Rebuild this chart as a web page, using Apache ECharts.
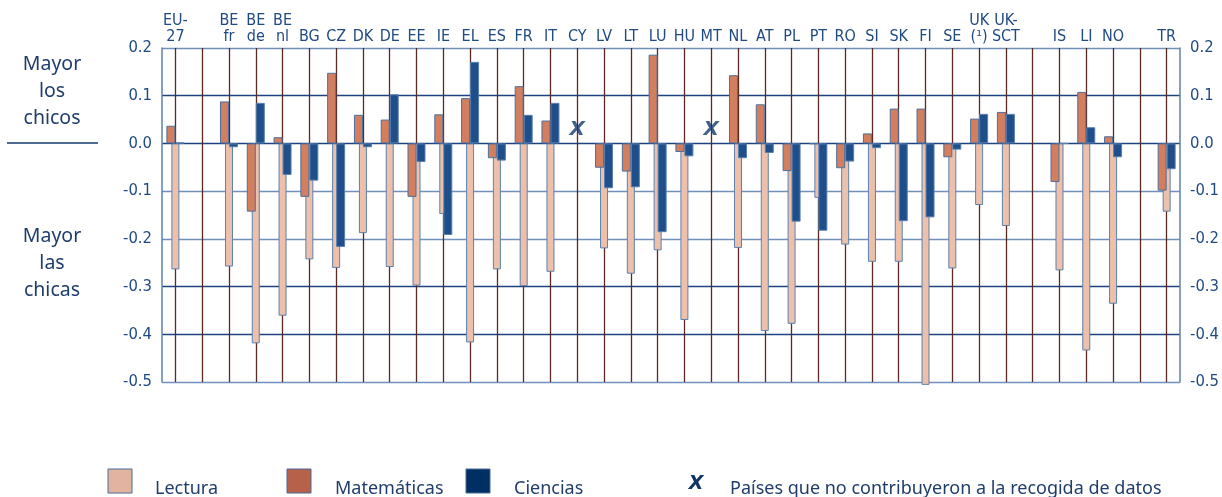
<!DOCTYPE html>
<html><head><meta charset="utf-8">
<script src="https://cdn.jsdelivr.net/npm/echarts@6/dist/echarts.min.js"></script>
<style>html,body{margin:0;padding:0;background:#fff}#c{width:1222px;height:497px}</style>
</head><body><div id="c"></div>
<script>
// ---- data ----
const categories = ['EU-\n27','','BE\nfr','BE\nde','BE\nnl','BG','CZ','DK','DE','EE','IE','EL','ES','FR','IT','CY','LV','LT','LU','HU','MT','NL','AT','PL','PT','RO','SI','SK','FI','SE','UK\n(¹)','UK-\nSCT','','IS','LI','NO','','TR'];
const lectura = [-0.264,null,-0.258,-0.419,-0.361,-0.243,-0.261,-0.188,-0.259,-0.298,-0.148,-0.417,-0.264,-0.299,-0.269,null,-0.220,-0.273,-0.224,-0.370,null,-0.219,-0.393,-0.378,-0.114,-0.212,-0.248,-0.248,-0.506,-0.262,-0.129,-0.173,null,-0.266,-0.434,-0.336,null,-0.143];
const matematicas = [0.037,null,0.088,-0.143,0.013,-0.112,0.148,0.060,0.050,-0.112,0.061,0.095,-0.031,0.120,0.048,null,-0.051,-0.059,0.186,-0.018,null,0.143,0.082,-0.058,-0.001,-0.052,0.021,0.073,0.073,-0.029,0.052,0.066,null,-0.081,0.108,0.015,null,-0.099];
const ciencias = [0.002,null,-0.008,0.085,-0.066,-0.078,-0.217,-0.008,0.103,-0.039,-0.192,0.171,-0.036,0.060,0.085,null,-0.094,-0.092,-0.186,-0.027,null,-0.031,-0.020,-0.164,-0.183,-0.038,-0.010,-0.163,-0.155,-0.013,0.062,0.062,null,0.000,0.034,-0.029,null,-0.054];
const noDataCountries = ['CY','MT'];
const noDataMarkValue = 0.028;
const yMin = -0.5, yMax = 0.2, yStep = 0.1;
const seriesNames = ['Lectura','Matemáticas','Ciencias'];
const noDataText = 'Países que no contribuyeron a la recogida de datos';

// ---- style ----
const NARROW = "'Liberation Sans Narrow','DejaVu Sans Condensed',sans-serif";
const SANS = "'Noto Sans','Open Sans',sans-serif";
const NAVY = '#1f4a82';
const TXT = '#1f3d6b';
const DARKLINE = '#1c4380', LIGHTLINE = '#6f90ba';
const cLect = '#ecc0aa', cMat = '#d27e5f', cCie = '#1f4f8b';

const chart = echarts.init(document.getElementById('c'), null, {renderer:'canvas'});
const fmt = v => (Math.abs(v) < 1e-9 ? '0.0' : v.toFixed(1));
const yAxisBase = {
  type:'value', min:yMin, max:yMax, interval:yStep,
  axisLine:{show:true, lineStyle:{color:'#5d82ae', width:1.5}},
  axisTick:{show:false},
  axisLabel:{color:NAVY, fontSize:16.5, fontFamily:NARROW, margin:10, formatter:fmt}
};
const markerData = noDataCountries.map(c => [categories.indexOf(c), noDataMarkValue]);

chart.setOption({
  animation:false,
  grid:{left:162, right:35, top:48, bottom:115, containLabel:false},
  xAxis:[
    {type:'category', position:'top', data:categories,
     axisLine:{show:false}, axisTick:{show:false}, splitLine:{show:false},
     axisLabel:{interval:0, color:NAVY, fontSize:16, lineHeight:16, margin:3, fontFamily:NARROW}},
    {type:'category', position:'top', data:categories, show:false}
  ],
  yAxis:[
    Object.assign({}, yAxisBase, {position:'left',
      splitLine:{show:true, lineStyle:{width:1.3, color:[LIGHTLINE,DARKLINE,DARKLINE,LIGHTLINE,LIGHTLINE,DARKLINE,DARKLINE,LIGHTLINE]}}}),
    Object.assign({}, yAxisBase, {position:'right', splitLine:{show:false}})
  ],
  series:[
    {type:'line', name:'guides', xAxisIndex:0, yAxisIndex:0, data:[], silent:true,
     markLine:{silent:true, z:1, symbol:['none','none'], label:{show:false},
       lineStyle:{color:'#5b2a24', width:1.3, type:'solid'},
       data: categories.map((c,i)=>({xAxis:i}))}},
    {type:'bar', name:seriesNames[0], xAxisIndex:1, yAxisIndex:0, data:lectura, barWidth:8, z:2, clip:false,
     itemStyle:{color:cLect, borderColor:'#5d82ae', borderWidth:1}},
    {type:'bar', name:seriesNames[1], xAxisIndex:0, yAxisIndex:0, data:matematicas, barWidth:9, barGap:'0%', z:3,
     itemStyle:{color:cMat, borderColor:'#4e6f9c', borderWidth:1}},
    {type:'bar', name:seriesNames[2], xAxisIndex:0, yAxisIndex:0, data:ciencias, barWidth:9, barGap:'0%', z:3,
     itemStyle:{color:cCie, borderColor:'#5a7fae', borderWidth:1}},
    {type:'scatter', name:'nd', xAxisIndex:0, yAxisIndex:0, data:markerData, symbolSize:1, z:4,
     itemStyle:{color:'rgba(0,0,0,0)'},
     label:{show:true, position:'inside', formatter:'X', color:'#123a70', fontSize:20, fontWeight:'bold', fontStyle:'italic', fontFamily:"'DejaVu Sans',sans-serif"}}
  ],
  graphic:[
    {type:'text', x:52, y:51, style:{text:'Mayor\nlos\nchicos', align:'center', verticalAlign:'top', font:'19.5px '+SANS, lineHeight:27, fill:TXT}},
    {type:'line', shape:{x1:7, y1:143, x2:98, y2:143}, style:{stroke:'#4d6a93', lineWidth:2}},
    {type:'text', x:52, y:223, style:{text:'Mayor\nlas\nchicas', align:'center', verticalAlign:'top', font:'19.5px '+SANS, lineHeight:27, fill:TXT}},
    {type:'rect', shape:{x:108, y:469, width:24, height:24}, style:{fill:'#e2b4a0', stroke:'#4a6a98', lineWidth:1}},
    {type:'text', x:155, y:489, style:{text:seriesNames[0], verticalAlign:'middle', font:'18px '+SANS, fill:TXT}},
    {type:'rect', shape:{x:287, y:469, width:24, height:24}, style:{fill:'#b8614a', stroke:'#4a6a98', lineWidth:1}},
    {type:'text', x:335, y:489, style:{text:seriesNames[1], verticalAlign:'middle', font:'18px '+SANS, fill:TXT}},
    {type:'rect', shape:{x:466, y:469, width:24, height:24}, style:{fill:'#002f63', stroke:'#4a6a98', lineWidth:1}},
    {type:'text', x:514, y:489, style:{text:seriesNames[2], verticalAlign:'middle', font:'18px '+SANS, fill:TXT}},
    {type:'text', x:696, y:484, style:{text:'X', align:'center', verticalAlign:'middle', font:"italic bold 19px 'DejaVu Sans',sans-serif", fill:'#0f3366'}},
    {type:'text', x:730, y:489, style:{text:noDataText, verticalAlign:'middle', font:'18px '+SANS, fill:TXT}}
  ]
});
</script></body></html>
